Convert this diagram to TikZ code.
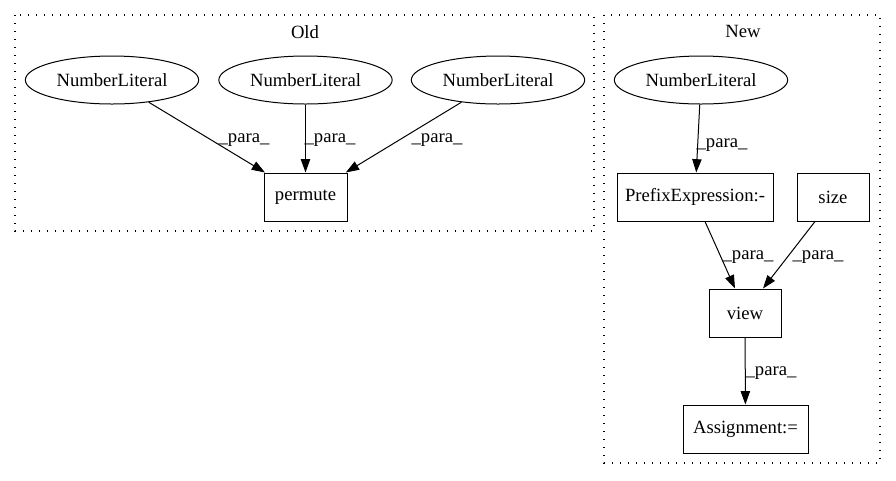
\documentclass[tikz,border=0pt]{standalone}
\usepackage{fontspec}
\setmainfont{Liberation Serif}
\usetikzlibrary{arrows.meta,shapes.geometric}
\tikzset{
  lit/.style={draw,ellipse,line width=0.75pt,minimum width=130pt,minimum height=36pt,inner sep=0pt},
  op/.style={draw,rectangle,line width=0.75pt,minimum height=36pt,inner sep=0pt},
  cluster/.style={draw,line width=0.9pt,dash pattern=on 1pt off 5pt},
  edge/.style={line width=0.75pt,-{Triangle[length=10pt,width=7pt]}},
  lbl/.style={inner sep=0pt}
}
\begin{document}
\begin{tikzpicture}[x=0.75pt,y=-0.75pt,font=\fontsize{14pt}{16pt}\selectfont]
\useasboundingbox (0,0) rectangle (896,480);
% clusters
\draw[cluster] (15,15) rectangle (594,231);
\draw[cluster] (604,15) rectangle (880,463);
\node[lbl] (oldlbl) at (305,32) {Old};
\node[lbl] (newlbl) at (743,31) {New};
% Old nodes
\node[lit] (nl1) at (112,80) {NumberLiteral};
\node[lit] (nl2) at (305.5,80) {NumberLiteral};
\node[lit] (nl3) at (498,80) {NumberLiteral};
\node[op,minimum width=62.25pt] (permute) at (305.5,197) {permute};
% New nodes
\node[lit] (nl4) at (701,80) {NumberLiteral};
\node[op,minimum width=117pt] (prefix) at (695,197) {PrefixExpression:-};
\node[op,minimum width=54pt] (size) at (833,197) {size};
\node[op,minimum width=54pt] (view) at (745,313) {view};
\node[op,minimum width=93.75pt] (assign) at (745.5,429) {Assignment:=};
% edges
\draw[edge] (nl1) -- (permute);
\draw[edge] (nl2) -- (permute);
\draw[edge] (nl3) -- (permute);
\draw[edge] (nl4) -- (prefix);
\draw[edge] ([xshift=7.5pt]prefix.south) -- ([xshift=-7.5pt]view.north);
\draw[edge] ([xshift=-13.5pt]size.south) -- ([xshift=13.5pt]view.north);
\draw[edge] (view) -- (assign);
% edge labels
\node[lbl] (l1) at (244,140) {\_para\_};
\node[lbl] (l2) at (330,140) {\_para\_};
\node[lbl] (l3) at (437,140) {\_para\_};
\node[lbl] (l4) at (722,145) {\_para\_};
\node[lbl] (l5) at (748,257) {\_para\_};
\node[lbl] (l6) at (818,257) {\_para\_};
\node[lbl] (l7) at (771,373) {\_para\_};
\end{tikzpicture}
\end{document}
